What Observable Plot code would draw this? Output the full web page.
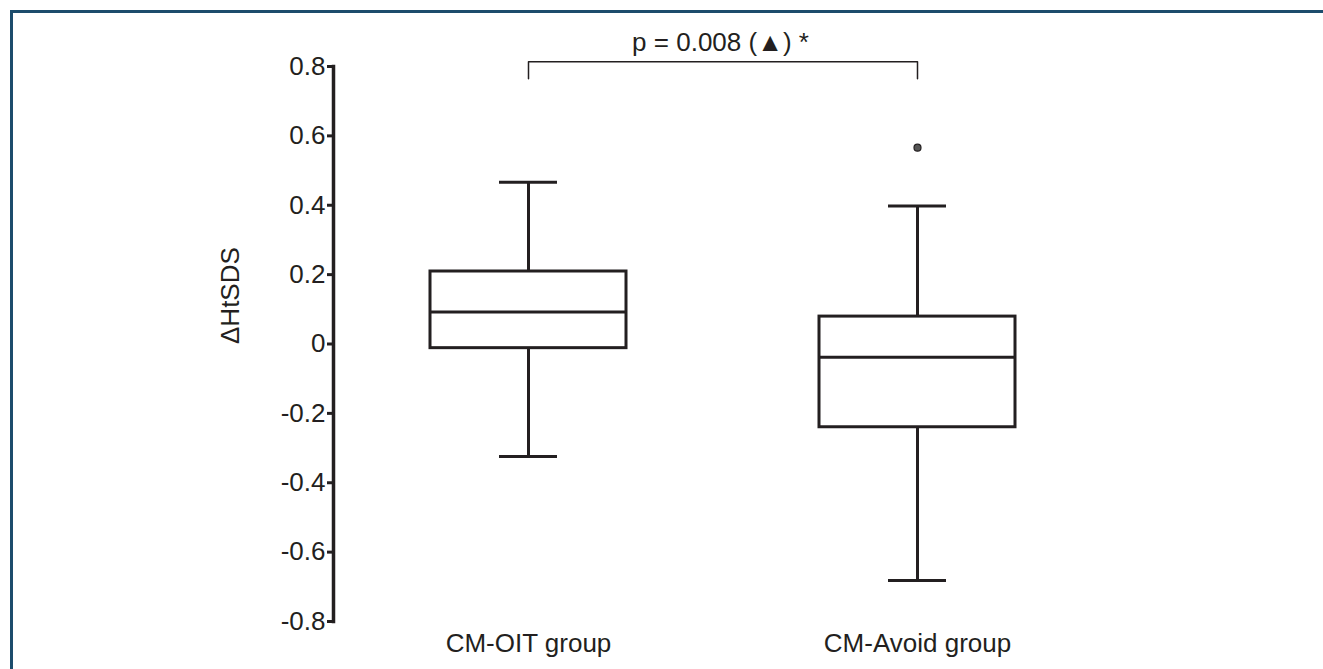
<!DOCTYPE html>
<html><head><meta charset="utf-8">
<script src="https://cdn.jsdelivr.net/npm/d3@7"></script>
<script src="https://cdn.jsdelivr.net/npm/@observablehq/plot@0.6"></script>
<style>
body{margin:0;background:#fff;}
#wrap{position:relative;width:1323px;height:669px;overflow:hidden;background:#fff;}
#border{position:absolute;left:10px;top:10px;width:1400px;height:800px;border-top:3px solid #1c4c6c;border-left:3px solid #1c4c6c;}
#chart{position:absolute;left:0;top:0;}
</style></head><body>
<div id="wrap"><div id="border"></div><div id="chart"></div></div>
<script>
const groups = ["CM-OIT group", "CM-Avoid group"];
const lowWhisker = [-0.324, -0.682];
const q1 = [-0.012, -0.240];
const median = [0.092, -0.038];
const q3 = [0.209, 0.079];
const highWhisker = [0.466, 0.398];
const outlierGroup = ["CM-Avoid group"];
const outlierValue = [0.566];
const yTicks = [0.8, 0.6, 0.4, 0.2, 0, -0.2, -0.4, -0.6, -0.8];
const pLabel = "p = 0.008 (▲) *";
const yLabel = "ΔHtSDS";
const bracketBottom = 0.765, bracketTop = 0.814;

const boxes = groups.map((g, i) => ({group: g, lo: lowWhisker[i], q1: q1[i], med: median[i], q3: q3[i], hi: highWhisker[i]}));
const outliers = outlierGroup.map((g, i) => ({group: g, value: outlierValue[i]}));
const bracket = [
  {group: groups[0], y: bracketBottom}, {group: groups[0], y: bracketTop},
  {group: groups[1], y: bracketTop}, {group: groups[1], y: bracketBottom}
];
const ink = "#231f20";
const font = "'Liberation Sans', Arial, Helvetica, sans-serif";
const fs = 26;

const plot = Plot.plot({
  width: 1323, height: 669,
  marginTop: 66, marginBottom: 48, marginLeft: 333, marginRight: 216,
  style: {fontFamily: font, fontSize: fs + "px", color: ink, background: "transparent", overflow: "visible"},
  x: {type: "band", domain: groups, range: [429, 1015], paddingInner: 0.497, paddingOuter: 0, align: 0.5},
  y: {domain: [-0.8, 0.8]},
  marks: [
    Plot.ruleX(boxes, {x: "group", y1: "lo", y2: "q1", stroke: ink, strokeWidth: 3}),
    Plot.ruleX(boxes, {x: "group", y1: "q3", y2: "hi", stroke: ink, strokeWidth: 3}),
    Plot.tickY(boxes, {x: "group", y: "lo", stroke: ink, strokeWidth: 3, insetLeft: 69, insetRight: 69}),
    Plot.tickY(boxes, {x: "group", y: "hi", stroke: ink, strokeWidth: 3, insetLeft: 69, insetRight: 69}),
    Plot.barY(boxes, {x: "group", y1: "q1", y2: "q3", fill: "white", stroke: ink, strokeWidth: 3}),
    Plot.tickY(boxes, {x: "group", y: "med", stroke: ink, strokeWidth: 3}),
    Plot.dot(outliers, {x: "group", y: "value", r: 3.5, fill: "#555", stroke: ink, strokeWidth: 1.2}),
    Plot.line(bracket, {x: "group", y: "y", stroke: ink, strokeWidth: 1.5}),
    Plot.text([pLabel], {frameAnchor: "top", lineAnchor: "middle", dy: -24, text: d => d, fontSize: fs, fill: ink}),
    Plot.frame({anchor: "left", stroke: ink, strokeWidth: 3.5}),
    Plot.axisY({ticks: yTicks, tickFormat: d => d === 0 ? "0" : d.toFixed(1), tickSize: 6, tickPadding: 2, strokeWidth: 3, label: null, fontSize: fs}),
    Plot.axisX({tickSize: 0, tickPadding: 12, label: null, fontSize: fs}),
    Plot.text([yLabel], {frameAnchor: "left", dx: -103, rotate: -90, text: d => d, fontSize: fs, fill: ink})
  ]
});
document.getElementById("chart").appendChild(plot);
</script>
</body></html>
